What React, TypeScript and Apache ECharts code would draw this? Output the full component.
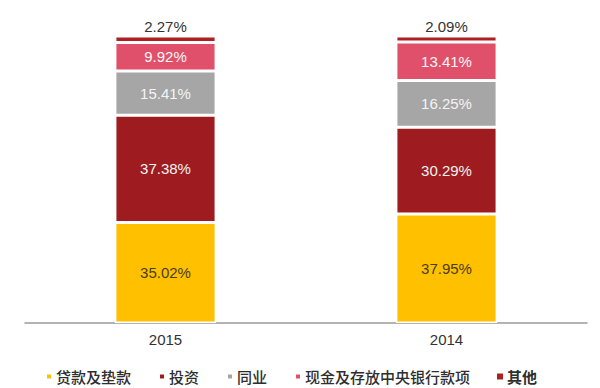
import React, { useEffect, useRef } from "react";
import * as echarts from "echarts";

const categories = ["2015", "2014"];
const seriesNames = ["贷款及垫款", "投资", "同业", "现金及存放中央银行款项", "其他"];
const loans = [35.02, 37.95];
const investments = [37.38, 30.29];
const interbank = [15.41, 16.25];
const cashCentral = [9.92, 13.41];
const others = [2.27, 2.09];

const colors = ["#FFC000", "#9E1C20", "#A6A6A6", "#E0506A", "#AE1F24"];
const labelColors = ["#4a3c1a", "#f2f2f2", "#f4f4f4", "#f8f8f8", "#333333"];

export default function App() {
  const ref = useRef<HTMLDivElement>(null);
  useEffect(() => {
    if (!ref.current) return;
    const chart = echarts.init(ref.current, undefined, { renderer: "svg" });
    const values = [loans, investments, interbank, cashCentral, others];
    const series = values.map((arr, i) => ({
      name: seriesNames[i],
      type: "bar",
      stack: "total",
      barWidth: "36%",
      data: arr,
      itemStyle: { color: colors[i], borderColor: "#ffffff", borderWidth: 1.5 },
      label: {
        show: true,
        position: i === 4 ? "top" : "inside",
        distance: 2,
        color: labelColors[i],
        fontSize: 15,
        fontFamily: "Liberation Sans, Arial, sans-serif",
        formatter: (p: any) => Number(p.value).toFixed(2) + "%",
      },
    }));
    chart.setOption({
      animation: false,
      color: colors,
      grid: { left: 25, right: 13, top: 36, bottom: 65, containLabel: false },
      xAxis: {
        type: "category",
        data: categories,
        axisLine: { lineStyle: { color: "#9a9a9a", width: 1.5 } },
        axisTick: { show: false },
        axisLabel: {
          color: "#333333",
          fontSize: 15,
          margin: 9,
          fontFamily: "Liberation Sans, Arial, sans-serif",
        },
      },
      yAxis: { type: "value", min: 0, max: 100, show: false },
      legend: {
        left: 40,
        top: 364,
        itemWidth: 6,
        itemHeight: 6,
        itemGap: 27,
        icon: "rect",
        textStyle: {
          color: "#2e2e2e",
          fontSize: 15,
          fontWeight: 500,
          fontFamily: "Noto Sans CJK SC, sans-serif",
          padding: [0, 0, 0, -1],
        },
        data: seriesNames.map((n, i) => ({
          name: n,
          itemStyle:
            i === 4
              ? { borderWidth: 0 }
              : { borderColor: "#ffffff", borderWidth: 2 },
          textStyle: i === 4 ? { fontWeight: "bold" } : {},
        })),
      },
      series,
    });
    return () => chart.dispose();
  }, []);
  return (
    <div
      ref={ref}
      style={{ position: "fixed", left: 0, top: 0, width: 600, height: 388, background: "#fff" }}
    />
  );
}
